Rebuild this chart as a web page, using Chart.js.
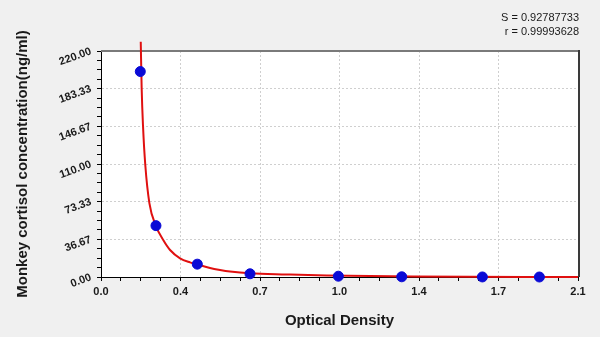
<!DOCTYPE html>
<html>
<head>
<meta charset="utf-8">
<script src="https://cdn.jsdelivr.net/npm/chart.js@4.4.0/dist/chart.umd.min.js"></script>
<style>
  html, body { margin: 0; padding: 0; background: #f0f0f0; }
  #wrap { width: 600px; height: 337px; }
</style>
</head>
<body>
<div id="wrap"><canvas id="stdCurve" width="600" height="337"></canvas></div>
<script>
// standard points (OD vs concentration)
const pointOD = [0.173, 0.242, 0.424, 0.656, 1.045, 1.324, 1.679, 1.930];
const pointConc = [200, 50, 12.5, 3.12, 0.78, 0.2, 0.05, 0];

// fitted curve
const curveOD = [0.175, 0.179, 0.185, 0.195, 0.213, 0.242, 0.274, 0.304, 0.348, 0.392, 0.424, 0.480, 0.524, 0.568, 0.656, 0.817, 0.994, 1.374, 2.1];
const curveConc = [229, 184, 147, 109, 72, 49.5, 36, 26.3, 18.2, 14.2, 12.2, 8.8, 6.9, 5.4, 3.6, 2.5, 1.5, 0.4, 0];

// axis ticks
const xTickValues = [0, 0.35, 0.7, 1.05, 1.4, 1.75, 2.1];
const xTickLabels = ["0.0", "0.4", "0.7", "1.0", "1.4", "1.7", "2.1"];
const yTickValues = [0, 36.667, 73.333, 110, 146.667, 183.333, 220];
const yTickLabels = ["0.00", "36.67", "73.33", "110.00", "146.67", "183.33", "220.00"];

const fitStats = ["S = 0.92787733", "r = 0.99993628"];

const FONT = "'Liberation Sans', Arial, sans-serif";
Chart.defaults.font.family = FONT;
Chart.defaults.color = '#1a1a1a';

function withMinor(majors, sub) {
  const out = [];
  for (let i = 0; i < majors.length - 1; i++) {
    const step = (majors[i + 1] - majors[i]) / sub;
    for (let j = 0; j < sub; j++) out.push({value: majors[i] + step * j});
  }
  out.push({value: majors[majors.length - 1]});
  return out;
}
function majorIndex(list, v) {
  for (let i = 0; i < list.length; i++) {
    if (Math.abs(list[i] - v) < 1e-3) return i;
  }
  return -1;
}

const framePlugin = {
  id: 'frame',
  beforeDraw(chart) {
    const {ctx, chartArea: a} = chart;
    ctx.save();
    ctx.fillStyle = '#f0f0f0';
    ctx.fillRect(0, 0, chart.width, chart.height);
    ctx.fillStyle = '#ffffff';
    ctx.fillRect(a.left, a.top, a.right - a.left, a.bottom - a.top);
    ctx.restore();
  },
  beforeDatasetsDraw(chart) {
    const {ctx, chartArea: a} = chart;
    ctx.save();
    ctx.lineWidth = 2;
    ctx.strokeStyle = '#7a7a7a';
    ctx.beginPath();
    ctx.moveTo(a.left, a.top);
    ctx.lineTo(a.right + 1, a.top);
    ctx.stroke();
    ctx.strokeStyle = '#3a3a3a';
    ctx.beginPath();
    ctx.moveTo(a.right + 1, a.top - 1);
    ctx.lineTo(a.right + 1, a.bottom);
    ctx.stroke();
    ctx.restore();
  },
  afterDraw(chart) {
    const {ctx} = chart;
    ctx.save();
    ctx.font = '11px ' + FONT;
    ctx.fillStyle = '#1a1a1a';
    ctx.textAlign = 'right';
    ctx.textBaseline = 'middle';
    ctx.fillText(fitStats[0], 579, 18);
    ctx.fillText(fitStats[1], 579, 32);
    ctx.restore();
  }
};

const ctx = document.getElementById('stdCurve');
new Chart(ctx, {
  type: 'scatter',
  data: {
    datasets: [
      {
        label: 'standards',
        data: pointOD.map((x, i) => ({x: x, y: pointConc[i]})),
        backgroundColor: '#0a0ad6',
        borderColor: '#0a0ad6',
        pointRadius: 5,
        pointHoverRadius: 5,
        showLine: false,
        clip: false
      },
      {
        label: 'fit',
        data: curveOD.map((x, i) => ({x: x, y: curveConc[i]})),
        showLine: true,
        borderColor: '#e01010',
        borderWidth: 2,
        pointRadius: 0,
        cubicInterpolationMode: 'monotone',
        fill: false,
        clip: false
      }
    ]
  },
  options: {
    responsive: false,
    animation: false,
    events: [],
    layout: {padding: {left: 0, top: 51, right: 22, bottom: 0}},
    plugins: {legend: {display: false}, tooltip: {enabled: false}},
    scales: {
      x: {
        type: 'linear',
        min: 0,
        max: 2.1,
        afterBuildTicks: s => { s.ticks = withMinor(xTickValues, 4); },
        afterFit: s => { s.height = 60; },
        ticks: {
          autoSkip: false,
          maxRotation: 0,
          padding: 4,
          font: {size: 11, weight: 'bold'},
          callback: v => { const i = majorIndex(xTickValues, v); return i < 0 ? '' : xTickLabels[i]; }
        },
        grid: {
          color: c => majorIndex(xTickValues, c.tick.value) < 0 ? 'rgba(0,0,0,0)' : '#cfcfcf',
          tickColor: '#000',
          tickLength: 4,
          lineWidth: 1
        },
        border: {color: '#000', width: 1, dash: [2, 2]},
        title: {
          display: true,
          text: 'Optical Density',
          font: {size: 15, weight: 'bold'},
          padding: {top: 0, bottom: 7}
        }
      },
      y: {
        type: 'linear',
        min: 0,
        max: 220,
        afterBuildTicks: s => { s.ticks = withMinor(yTickValues, 4); },
        afterFit: s => { s.width = 101; },
        ticks: {
          autoSkip: false,
          minRotation: 20,
          maxRotation: 20,
          padding: 6,
          font: {size: 11, weight: 'bold'},
          callback: v => { const i = majorIndex(yTickValues, v); return i < 0 ? '' : yTickLabels[i]; }
        },
        grid: {
          color: c => majorIndex(yTickValues, c.tick.value) < 0 ? 'rgba(0,0,0,0)' : '#cfcfcf',
          tickColor: '#000',
          tickLength: 4,
          lineWidth: 1
        },
        border: {color: '#000', width: 1, dash: [2, 2]},
        title: {
          display: true,
          text: 'Monkey cortisol concentration(ng/ml)',
          font: {size: 15, weight: 'bold'},
          padding: {top: 14, bottom: 0}
        }
      }
    }
  },
  plugins: [framePlugin]
});
</script>
</body>
</html>
